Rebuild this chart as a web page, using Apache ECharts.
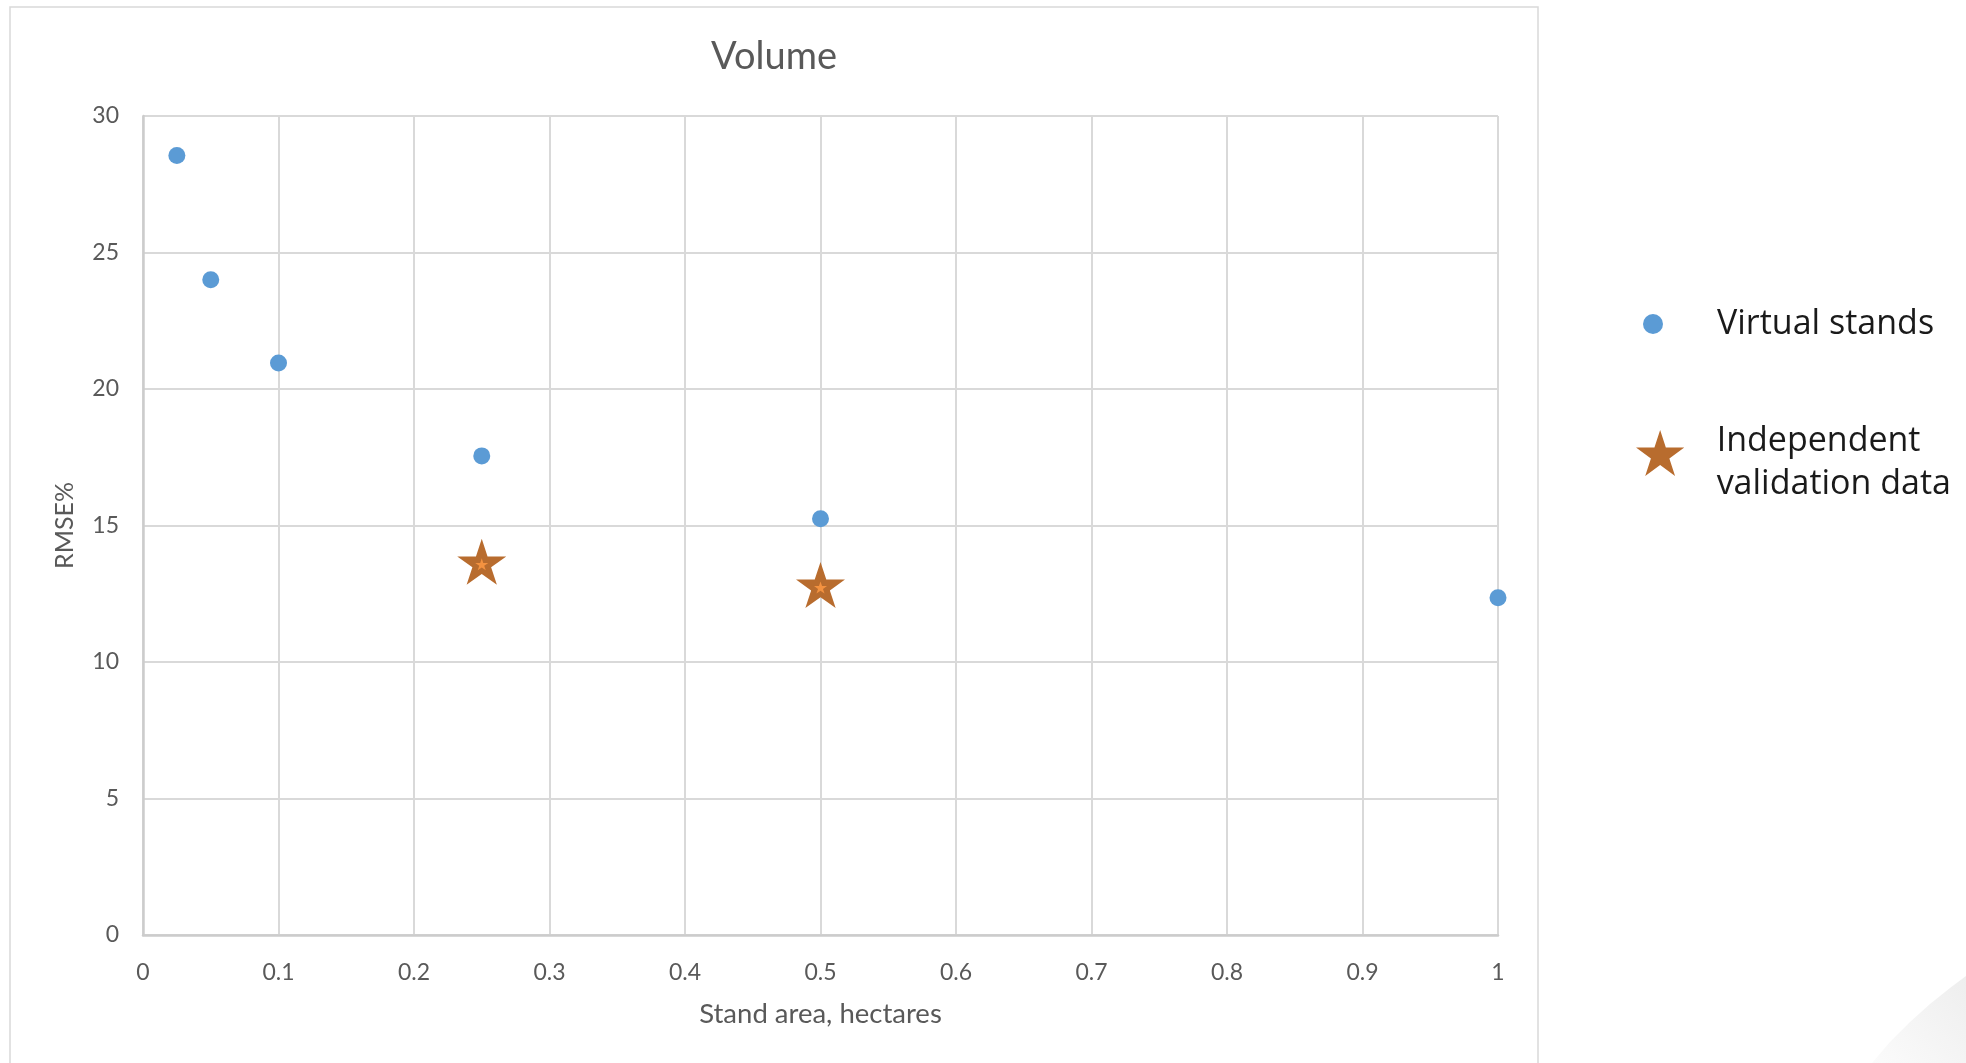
<!DOCTYPE html>
<html>
<head>
<meta charset="utf-8">
<script src="https://cdn.jsdelivr.net/npm/echarts@6/dist/echarts.min.js"></script>
<style>
  html, body { margin: 0; padding: 0; background: #ffffff; }
  #chart { width: 1966px; height: 1063px; }
</style>
</head>
<body>
<div id="chart"></div>
<script>
// Labels
const chartTitle = 'Volume';
const xAxisName = 'Stand area, hectares';
const yAxisName = 'RMSE%';
const virtualName = 'Virtual stands';
const validationName = 'Independent validation data';

// Stand area (ha) vs. RMSE% for the virtual stands
const virtualArea = [0.025, 0.05, 0.1, 0.25, 0.5, 1];
const virtualRmse = [28.55, 24.0, 20.95, 17.55, 15.25, 12.35];

// Stand area (ha) vs. RMSE% for the independent validation data
const validationArea = [0.25, 0.5];
const validationRmse = [13.67, 12.82];

// Tick labels
const xTickLabels = ['0', '0.1', '0.2', '0.3', '0.4', '0.5', '0.6', '0.7', '0.8', '0.9', '1'];
const yTickLabels = ['0', '5', '10', '15', '20', '25', '30'];

const STAR = 'path://M50 0L61.23 34.55L97.55 34.55L68.17 55.9L79.39 90.45L50 69.1L20.61 90.45L31.83 55.9L2.45 34.55L38.77 34.55Z';
// legend version: trailing move-to leaves empty room under the star so it sits a bit above the text centre
const STAR_LEGEND = STAR + 'M50 130';
const FONT = 'Lato';
const TEXT_GREY = '#595959';
const GRID_GREY = '#d9d9d9';

const pairs = (xs, ys) => xs.map((x, i) => [x, ys[i]]);

const chart = echarts.init(document.getElementById('chart'), null, { renderer: 'canvas' });

chart.setOption({
  animation: false,
  backgroundColor: '#ffffff',
  title: {
    text: chartTitle,
    left: 769,
    textAlign: 'center',
    top: 33,
    textStyle: { fontFamily: FONT, fontSize: 38, fontWeight: 'normal', color: TEXT_GREY }
  },
  grid: { left: 143, right: 468, top: 116, bottom: 128, containLabel: false },
  xAxis: {
    type: 'value',
    min: 0, max: 1, interval: 0.1,
    name: xAxisName,
    nameLocation: 'middle',
    nameGap: 65,
    nameTextStyle: { fontFamily: FONT, fontSize: 27.5, color: TEXT_GREY },
    axisLine: { show: true, lineStyle: { color: '#cccccc', width: 2.5 } },
    axisTick: { show: false },
    axisLabel: {
      margin: 26,
      fontFamily: FONT, fontSize: 23, color: TEXT_GREY,
      formatter: v => xTickLabels[Math.round(v * 10)]
    },
    splitLine: { show: true, lineStyle: { color: GRID_GREY, width: 2 } }
  },
  yAxis: {
    type: 'value',
    min: 0, max: 30, interval: 5,
    name: yAxisName,
    nameLocation: 'middle',
    nameGap: 66,
    nameRotate: 90,
    nameTextStyle: { fontFamily: FONT, fontSize: 25, color: TEXT_GREY },
    axisLine: { show: true, lineStyle: { color: '#cccccc', width: 2.5 } },
    axisTick: { show: false },
    axisLabel: {
      margin: 24,
      fontFamily: FONT, fontSize: 23, color: TEXT_GREY,
      formatter: v => yTickLabels[Math.round(v / 5)]
    },
    splitLine: { show: true, lineStyle: { color: GRID_GREY, width: 2 } }
  },
  legend: [
    {
      data: [{ name: virtualName, icon: 'circle' }],
      orient: 'vertical',
      left: 1643,
      top: 303,
      padding: 0,
      itemWidth: 118,
      itemHeight: 20,
      selectedMode: false,
      textStyle: { fontFamily: 'Open Sans', fontSize: 34, color: '#1a1a1a', lineHeight: 42 }
    },
    {
      data: [{ name: validationName, icon: STAR_LEGEND }],
      orient: 'vertical',
      left: 1636,
      top: 420,
      padding: 0,
      itemWidth: 103,
      itemHeight: 66,
      selectedMode: false,
      formatter: () => 'Independent\nvalidation data',
      textStyle: { fontFamily: 'Open Sans', fontSize: 34, color: '#1a1a1a', lineHeight: 43 }
    }
  ],
  series: [
    {
      name: virtualName,
      type: 'scatter',
      symbol: 'circle',
      symbolSize: 17,
      itemStyle: { color: '#5b9bd5', opacity: 1 },
      emphasis: { disabled: true },
      data: pairs(virtualArea, virtualRmse)
    },
    {
      name: validationName,
      type: 'scatter',
      symbol: STAR,
      symbolSize: [49, 46],
      itemStyle: { color: '#b86c2e', opacity: 1 },
      emphasis: { disabled: true },
      data: pairs(validationArea, validationRmse)
    },
    {
      // small inner highlight of the star marker
      name: validationName,
      type: 'scatter',
      symbol: STAR,
      symbolSize: [13, 12],
      symbolOffset: [0, 2.5],
      itemStyle: { color: '#f39240', opacity: 1 },
      emphasis: { disabled: true },
      z: 3,
      data: pairs(validationArea, validationRmse)
    }
  ],
  graphic: [
    {
      type: 'rect',
      silent: true,
      shape: { x: 10, y: 7, width: 1528, height: 1100 },
      style: { fill: 'none', stroke: '#d9d9d9', lineWidth: 1.5 }
    },
    {
      type: 'polygon',
      silent: true,
      shape: {
        points: [[1872, 1063], [1890, 1042], [1910, 1022], [1930, 1004], [1950, 988], [1966, 976], [1966, 1063]]
      },
      style: {
        fill: {
          type: 'linear', x: 0, y: 1, x2: 1, y2: 0,
          colorStops: [{ offset: 0, color: '#fbfbfb' }, { offset: 1, color: '#eeeeee' }]
        }
      }
    }
  ]
});
</script>
</body>
</html>
